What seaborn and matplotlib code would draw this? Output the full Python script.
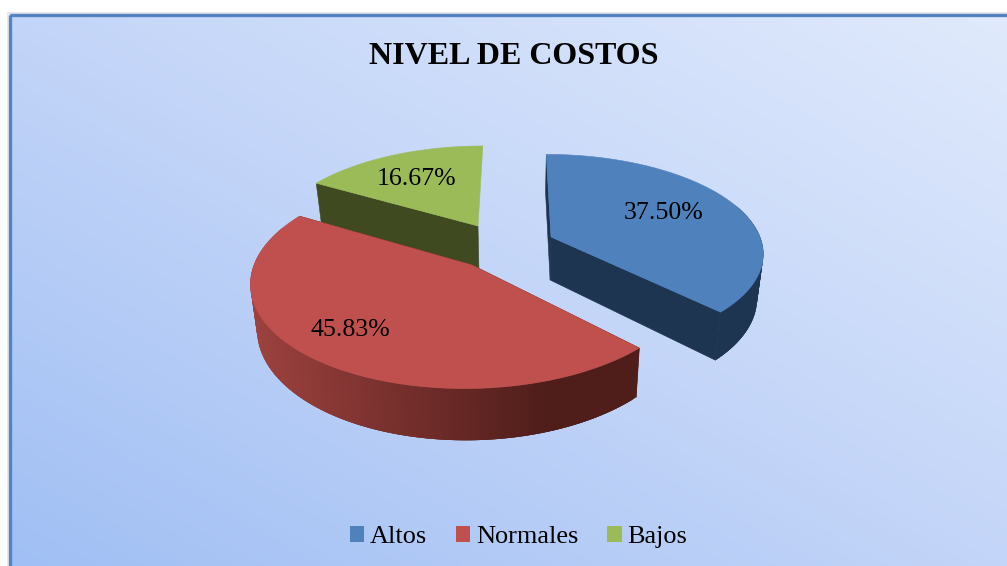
import numpy as np
import matplotlib
matplotlib.use("Agg")
import matplotlib.pyplot as plt
from matplotlib.colors import LinearSegmentedColormap, to_rgb
from matplotlib.patches import Patch, Polygon, Rectangle
import seaborn as sns

# Data
title = "NIVEL DE COSTOS"
categories = ["Altos", "Normales", "Bajos"]
counts = [9, 11, 4]

# Styles
top_colors = ["#4f81bd", "#c0504d", "#9bbb59"]
wall_colors = ["#1d3550", "#4f1d1a", "#404a21"]

sns.set_theme(style="white")
plt.rcParams["font.family"] = ["Liberation Serif", "DejaVu Serif"]

W, H = 1007, 566
fig = plt.figure(figsize=(W / 100, H / 100), dpi=100)
ax = fig.add_axes([0, 0, 1, 1])
ax.set_xlim(0, W)
ax.set_ylim(H, 0)
ax.axis("off")
fig.patch.set_facecolor("white")

# Background gradient and frame
gx, gy = np.meshgrid(np.linspace(0, 1, 300), np.linspace(0, 1, 200))
grad = (gx + (1 - gy)) / 2
cmap = LinearSegmentedColormap.from_list("bg", ["#a0bff4", "#c3d5f8", "#e0eafc"])
x0, y0 = 9.5, 14.5
ax.add_patch(Rectangle((x0 - 3, y0 - 3), W, H, fc="#e8e8e8", ec="none", zorder=0))
ax.imshow(grad, cmap=cmap, extent=(x0, W + 5, H + 5, y0), aspect="auto", zorder=1,
          vmin=0, vmax=1)
ax.set_xlim(0, W)
ax.set_ylim(H, 0)
ax.add_patch(Rectangle((x0, y0), W + 10, H + 10, fc="none", ec="#5383c2", lw=2.4, zorder=2))

# Pie geometry: centre, semi-axes, wall depth, label radius and nudge
geom = {
    "Altos": dict(cx=551, cy=237, a=209, b=95, d=43, lr=0.60, ldx=2, ldy=-3),
    "Normales": dict(cx=472, cy=265, a=218, b=105, d=44, lr=0.72, ldx=-13, ldy=-1),
    "Bajos": dict(cx=478, cy=226, a=204, b=92, d=42, lr=0.70, ldx=1, ldy=4),
}
K = 0.15
VX = 515
SHRINK = 0.025


def project(g, ang, h=0.0, r=1.0):
    ang = np.asarray(ang, dtype=float)
    X = r * np.sin(ang)
    Y = -r * np.cos(ang)
    s = 1 / (1 - K * Y)
    x = g["cx"] + g["a"] * X * s + (g["cx"] - VX) * (s - 1)
    y = g["cy"] + g["b"] * Y * s
    x = VX + (x - VX) * (1 - SHRINK * h)
    y = y + g["d"] * s * h
    return x, y


total = sum(counts)
edges = np.cumsum([0] + counts) / total * 2 * np.pi
order = [2, 0, 1]  # back to front
for z, i in enumerate(order):
    g = geom[categories[i]]
    a0, a1 = edges[i], edges[i + 1]
    zb = 5 + z * 3
    apex_t = (g["cx"], g["cy"])
    apex_b = project(g, 0, 1, 0)
    ts = project(g, a0)
    tb = project(g, a0, 1)
    te = project(g, a1)
    be = project(g, a1, 1)
    wall = wall_colors[i]
    # Flat cut faces: the far cut of the last slice faces away from the viewer
    ax.add_patch(Polygon([ts, apex_t, apex_b, tb], fc=wall, ec=wall, lw=0.4, zorder=zb))
    if categories[i] != "Bajos":
        ax.add_patch(Polygon([te, apex_t, apex_b, be], fc=wall, ec=wall, lw=0.4, zorder=zb))
    # Outer rim
    angs = np.linspace(a0, a1, 200)
    xt, yt = project(g, angs)
    xb, yb = project(g, angs, 1)
    base = np.array(to_rgb(top_colors[i]))
    dark = np.array(to_rgb(wall))
    for j in range(len(angs) - 1):
        if np.cos(angs[j]) > 0.35:
            continue
        k = min(j + 3, len(angs) - 1)
        if categories[i] == "Normales":
            f = np.clip((xt[j] - 250) / 300, 0, 1)
            col = 0.82 * base * (1 - f) + dark * f
        else:
            col = dark
        ax.add_patch(Polygon([(xt[j], yt[j]), (xt[k], yt[k]), (xb[k], yb[k]), (xb[j], yb[j])],
                             fc=col, ec="none", zorder=zb + 1))
    # Top face
    pts = np.vstack([[apex_t], np.column_stack([xt, yt])])
    ax.add_patch(Polygon(pts, fc=top_colors[i], ec=top_colors[i], lw=0.4, zorder=zb + 2))

# Percent labels
for i, cat in enumerate(categories):
    g = geom[cat]
    mid = (edges[i] + edges[i + 1]) / 2
    lx, ly = project(g, mid, 0, g["lr"])
    ax.text(lx + g["ldx"], ly + g["ldy"], f"{counts[i] / total * 100:.2f}%", ha="center",
            va="center", fontsize=18.6, color="black", zorder=30)

ax.text(513.5, 57, title, ha="center", va="center", fontsize=23.0,
        fontweight="bold", color="black", zorder=30)

handles = [Patch(fc=c, ec="none", label=l) for c, l in zip(top_colors, categories)]
ax.legend(handles=handles, loc="center", bbox_to_anchor=(518.5 / W, 1 - 537 / H),
          ncol=3, frameon=False, fontsize=18.9, handlelength=0.54, handleheight=0.54,
          handletextpad=0.2, columnspacing=1.12, borderpad=0, labelcolor="black")

fig.savefig("out.png", dpi=100)
